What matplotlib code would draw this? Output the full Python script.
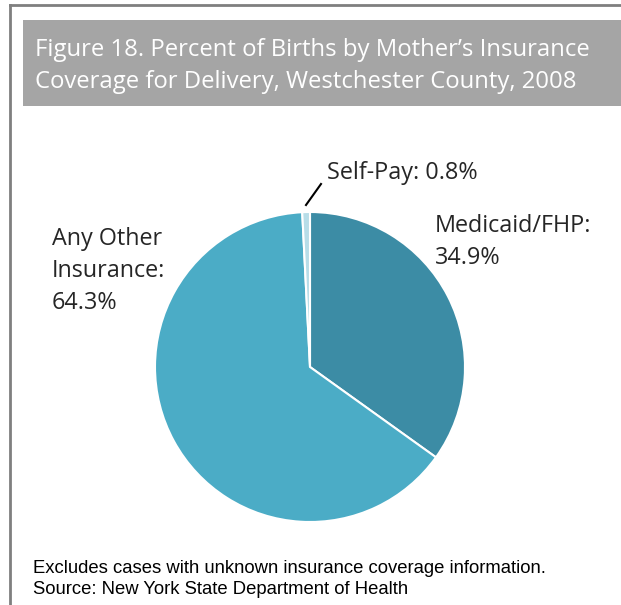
import matplotlib.pyplot as plt
from matplotlib.patches import Rectangle
from matplotlib.lines import Line2D

categories = ['Medicaid/FHP', 'Any Other\nInsurance', 'Self-Pay']
shares = [34.9, 64.3, 0.8]
colors = ['#3C8CA5', '#4BACC6', '#B7DDE8']

title = ('Figure 18. Percent of Births by Mother\u2019s Insurance\n'
         'Coverage for Delivery, Westchester County, 2008')
note = ('Excludes cases with unknown insurance coverage information.\n'
        'Source: New York State Department of Health')

W, H = 621, 605
fig = plt.figure(figsize=(W / 100, H / 100), dpi=100)

# outer frame (top and left edges only are visible)
fig.add_artist(Line2D([10 / W, 1], [1 - 5 / H, 1 - 5 / H], color='#7F7F7F', lw=2))
fig.add_artist(Line2D([10 / W, 10 / W], [0, 1 - 5 / H], color='#7F7F7F', lw=2))

# title banner
fig.add_artist(Rectangle((23 / W, 1 - 106 / H), 1 - 23 / W, 86 / H,
                         transform=fig.transFigure, color='#A5A5A5', lw=0))
fig.text(35 / W, 1 - 66 / H, title, color='white', fontsize=17.2,
         family='Open Sans', va='center', ha='left', linespacing=1.5)

# pie
cx, cy, r = 310, 367, 155
ax = fig.add_axes([(cx - r) / W, (H - cy - r) / H, 2 * r / W, 2 * r / H])
ax.pie(shares, colors=colors, startangle=90, counterclock=False,
       radius=1, wedgeprops=dict(edgecolor='white', linewidth=1.5))
ax.set_xlim(-1, 1)
ax.set_ylim(-1, 1)
ax.set_aspect('equal')
ax.axis('off')

lab = dict(fontsize=16.8, family='Open Sans', color='#262626', linespacing=1.45)
fig.text(435 / W, 1 - 242 / H, f'{categories[0]}:\n{shares[0]}%', ha='left', va='center', **lab)
fig.text(52 / W, 1 - 271 / H, f'{categories[1]}:\n{shares[1]}%', ha='left', va='center', **lab)
fig.text(327 / W, 1 - 173 / H, f'{categories[2]}: {shares[2]}%', ha='left', va='center', **lab)
fig.add_artist(Line2D([306 / W, 321 / W], [1 - 205 / H, 1 - 184 / H], color='black', lw=1.5))

fig.text(33 / W, 1 - 579 / H, note, fontsize=13.3, family='Liberation Sans',
         ha='left', va='center', linespacing=1.27)

fig.savefig('out.png', dpi=100)
